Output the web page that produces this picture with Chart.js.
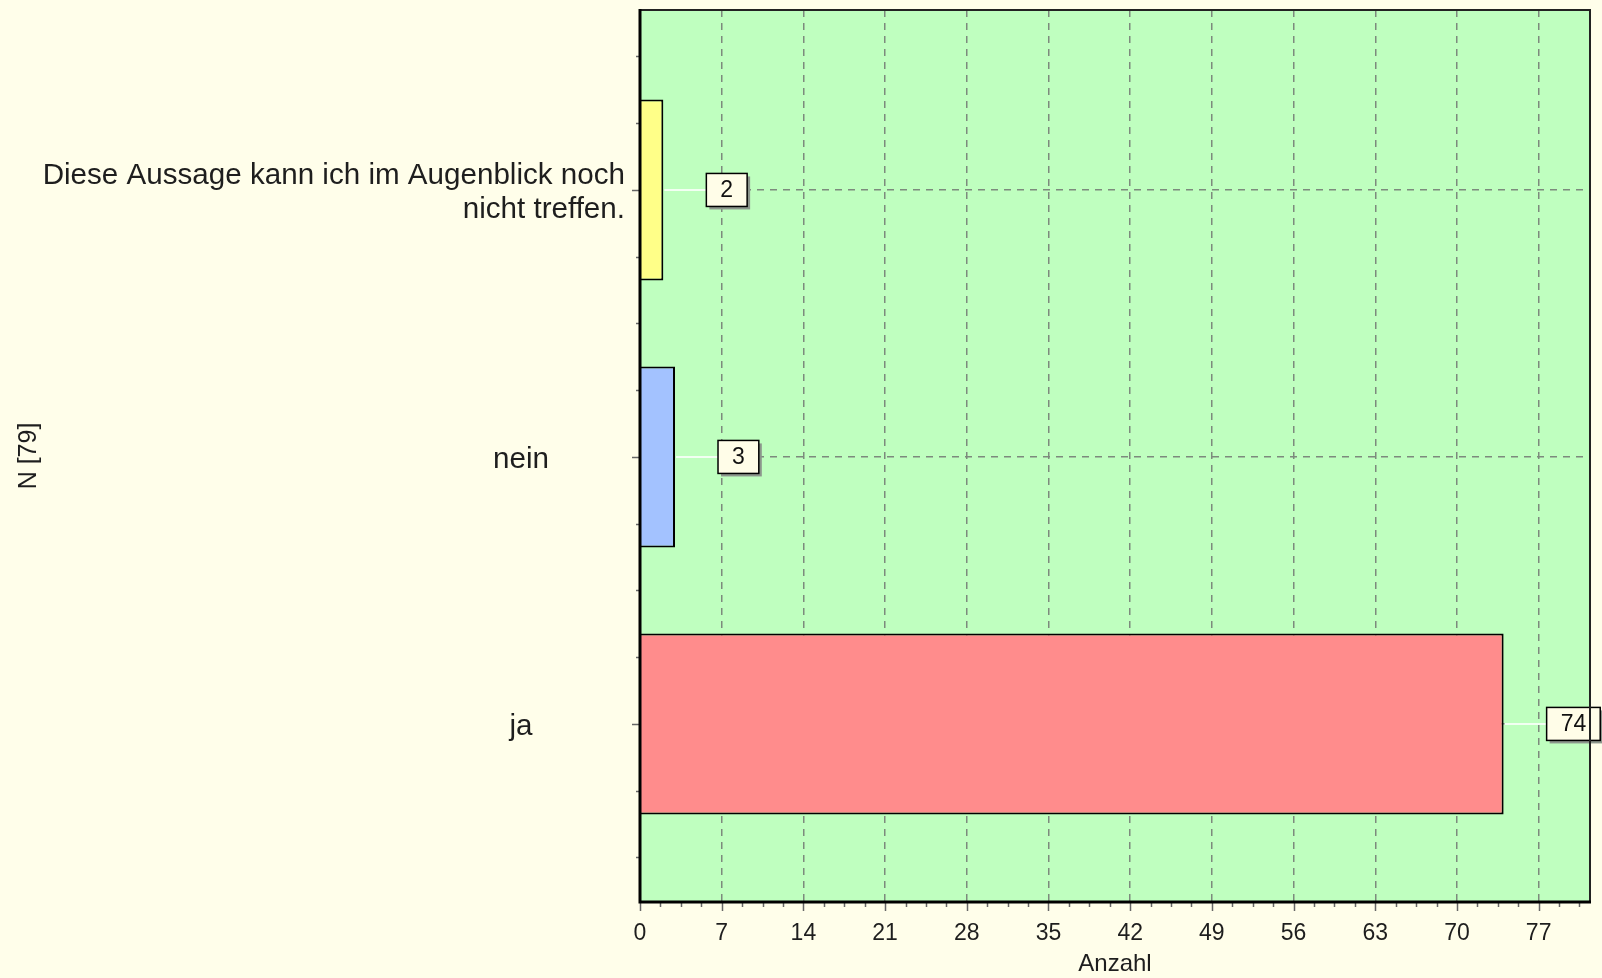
<!DOCTYPE html>
<html>
<head>
<meta charset="utf-8">
<script src="https://cdn.jsdelivr.net/npm/chart.js@4.4.0/dist/chart.umd.min.js"></script>
<style>
html, body { margin: 0; padding: 0; background: #fffeea; }
#wrap { width: 1602px; height: 978px; position: relative; }
</style>
</head>
<body>
<div id="wrap"><canvas id="myChart"></canvas></div>
<script>
// datos
var categories = [['Diese Aussage kann ich im Augenblick noch', 'nicht treffen.'], ['nein'], ['ja']];
var positions = [0, 1, 2];
var counts = [2, 3, 74];
var barColors = ['#ffff88', '#a3c2ff', '#ff8c8c'];
var total = 79;
var xMax = 81.4;
var xStep = 7;

var fontName = "'Liberation Sans', Arial, sans-serif";
var plotGreen = '#bfffbf';
var gridColor = '#7d8a7d';

// fondo verde del area del grafico
const fondo = {
    id: 'fondo',
    beforeDraw(chart) {
        const a = chart.chartArea, ctx = chart.ctx;
        ctx.save();
        ctx.fillStyle = plotGreen;
        ctx.fillRect(a.left, a.top, a.right - a.left, a.bottom - a.top);
        ctx.restore();
    }
};

// etiquetas con caja, marco y ticks menores
const cajas = {
    id: 'cajas',
    afterDatasetsDraw(chart) {
        const ctx = chart.ctx, a = chart.chartArea;
        const meta = chart.getDatasetMeta(0);
        ctx.save();
        ctx.font = '23px ' + fontName;
        meta.data.forEach((el, i) => {
            const txt = String(counts[i]);
            const tw = ctx.measureText(txt).width;
            const w = tw + 28, h = 33;
            const x0 = el.x + 43, y0 = el.y - h / 2;
            // linea conectora
            ctx.strokeStyle = '#f2fff2';
            ctx.lineWidth = 2;
            ctx.beginPath();
            ctx.moveTo(el.x + 1, el.y);
            ctx.lineTo(x0, el.y);
            ctx.stroke();
            // sombra
            ctx.fillStyle = '#8c968c';
            ctx.fillRect(x0 + 3, y0 + 3, w, h);
            ctx.fillStyle = '#fffde8';
            ctx.fillRect(x0, y0, w, h);
            ctx.strokeStyle = '#000';
            ctx.lineWidth = 1.5;
            ctx.strokeRect(x0, y0, w, h);
            ctx.fillStyle = '#111';
            ctx.textAlign = 'center';
            ctx.textBaseline = 'middle';
            ctx.fillText(txt, x0 + w / 2, el.y + 1);
        });

        // ticks eje x
        const xs = chart.scales.x, ys = chart.scales.y;
        ctx.strokeStyle = '#666';
        ctx.lineWidth = 1.5;
        for (let k = 0; k * xStep / 4 <= xMax + 1e-9; k++) {
            const px = Math.round(xs.getPixelForValue(k * xStep / 4)) + 0.5;
            const len = (k % 4 == 0) ? 9 : 5;
            ctx.beginPath();
            ctx.moveTo(px, a.bottom);
            ctx.lineTo(px, a.bottom + len);
            ctx.stroke();
        }
        // ticks eje y
        for (let k = Math.ceil(ys.min * 4); k <= Math.floor(ys.max * 4); k++) {
            const py = Math.round(ys.getPixelForValue(k / 4)) + 0.5;
            const len = (k % 4 == 0) ? 8 : 4;
            ctx.beginPath();
            ctx.moveTo(a.left - len, py);
            ctx.lineTo(a.left, py);
            ctx.stroke();
        }

        // marco
        ctx.strokeStyle = '#222';
        ctx.lineWidth = 2;
        ctx.beginPath();
        ctx.moveTo(a.left, a.top);
        ctx.lineTo(a.right, a.top);
        ctx.lineTo(a.right, a.bottom);
        ctx.stroke();
        ctx.strokeStyle = '#000';
        ctx.lineWidth = 3;
        ctx.beginPath();
        ctx.moveTo(a.left, a.top - 1);
        ctx.lineTo(a.left, a.bottom);
        ctx.lineTo(a.right + 1, a.bottom);
        ctx.stroke();
        ctx.restore();
    },
    afterDraw(chart) {
        // nombres de las categorias
        const ctx = chart.ctx, a = chart.chartArea, ys = chart.scales.y;
        ctx.save();
        ctx.font = '29.6px ' + fontName;
        ctx.fillStyle = '#1e1e1e';
        ctx.textBaseline = 'middle';
        categories.forEach((lines, i) => {
            const py = ys.getPixelForValue(positions[i]) + 3;
            const n = lines.length;
            lines.forEach((t, j) => {
                const y = py + (j - (n - 1) / 2) * 34;
                if (n > 1) {
                    ctx.textAlign = 'right';
                    ctx.fillText(t, a.left - 15, y);
                } else {
                    ctx.textAlign = 'center';
                    ctx.fillText(t, a.left - 119, y);
                }
            });
        });
        ctx.restore();
    }
};

const data = {
    datasets: [{
        data: counts.map((v, i) => ({ x: v, y: positions[i] })),
        backgroundColor: barColors,
        borderColor: '#000',
        borderWidth: 2,
        barPercentage: 0.678,
        categoryPercentage: 1
    }]
};

const opciones = {
    indexAxis: 'y',
    responsive: true,
    maintainAspectRatio: false,
    animation: false,
    layout: { padding: { top: 10, right: 12, left: 0, bottom: 0 } },
    plugins: {
        legend: { display: false },
        tooltip: { enabled: false }
    },
    scales: {
        x: {
            type: 'linear',
            min: 0,
            max: xMax,
            afterFit: s => { s.height = 76; },
            ticks: {
                stepSize: xStep,
                includeBounds: false,
                padding: 18,
                color: '#1e1e1e',
                font: { family: fontName, size: 23 }
            },
            grid: {
                drawTicks: false,
                lineWidth: 1.5,
                color: c => (c.tick && c.tick.value === 0) ? 'rgba(0,0,0,0)' : gridColor
            },
            border: { display: false, dash: [7, 6] },
            title: {
                display: true,
                text: 'Anzahl',
                color: '#1e1e1e',
                font: { family: fontName, size: 24, lineHeight: 1.05 },
                padding: { top: 0, bottom: 1 }
            }
        },
        y: {
            type: 'linear',
            reverse: true,
            offset: false,
            min: -0.674,
            max: 2.667,
            afterBuildTicks: s => { s.ticks = positions.map(v => ({ value: v })); },
            afterFit: s => { s.width = 640; },
            ticks: { display: false },
            grid: {
                offset: false,
                drawTicks: false,
                lineWidth: 1.5,
                color: gridColor
            },
            border: { display: false, dash: [7, 6] },
            title: {
                display: true,
                text: 'N [' + total + ']',
                color: '#1e1e1e',
                font: { family: fontName, size: 25 },
                padding: { top: 14, bottom: 0 }
            }
        }
    }
};

var ctx = document.getElementById('myChart');
var chart = new Chart(ctx, {
    type: 'bar',
    data: data,
    options: opciones,
    plugins: [fondo, cajas]
});
</script>
</body>
</html>
